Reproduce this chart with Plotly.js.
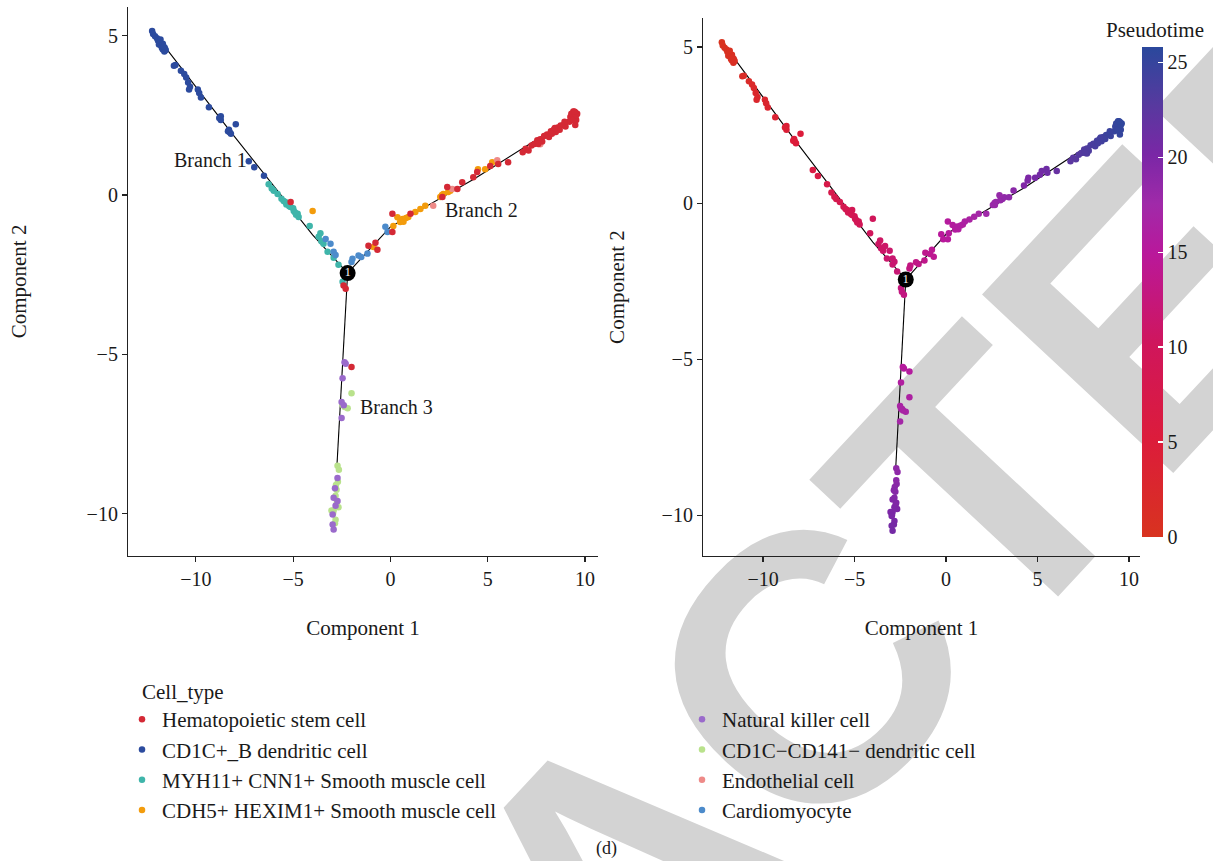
<!DOCTYPE html>
<html>
<head>
<meta charset="utf-8">
<script src="https://cdn.plot.ly/plotly-3.0.1.min.js"></script>
<style>
  html, body { margin: 0; padding: 0; background: #ffffff; }
  #chart { width: 1213px; height: 861px; }
</style>
</head>
<body>
<div id="chart"></div>
<script>
// ---- cell coordinates (Component 1, Component 2) and pseudotime, per cell type ----
const hematopoieticX = [-5.13, -1.13, -0.77, -0.67, 0.1, 0.1, 1.03, 2.92, 3.69, 3.44, -2.41, -2.3, -2.0, 4.26, 4.46, 2.67, 5.13, 5.54, 6.05, 6.8, 6.95, 7.1, 7.25, 7.4, 7.55, 7.7, 7.8, 7.9, 8.05, 8.15, 8.25, 8.4, 8.5, 8.6, 8.75, 8.9, 9.0, 8.3, 7.6, 9.2, 9.3, 9.35, 9.45, 9.5, 9.55, 9.6, 9.4, 9.25, 9.5, 9.3, 9.4, 9.55, 9.45, 8.95, 8.7, 8.45];
const hematopoieticY = [-0.22, -1.59, -1.5, -1.72, -0.59, -1.16, -0.59, 0.25, 0.4, 0.19, -2.84, -2.94, -5.4, 0.56, 0.72, -0.06, 0.91, 0.97, 1.03, 1.34, 1.45, 1.4, 1.55, 1.6, 1.72, 1.75, 1.68, 1.85, 1.9, 1.82, 2.0, 2.05, 1.98, 2.12, 2.18, 2.2, 2.15, 1.92, 1.6, 2.3, 2.4, 2.52, 2.45, 2.6, 2.35, 2.55, 2.62, 2.45, 2.2, 2.55, 2.35, 2.5, 2.62, 2.3, 2.05, 2.1];
const hematopoieticPseudotime = [8.9, 13.9, 14.3, 14.2, 15.4, 15.2, 16.3, 18.3, 19.1, 18.8, 12.9, 13.0, 15.5, 19.7, 19.9, 18.0, 20.6, 21.0, 21.5, 22.4, 22.5, 22.7, 22.9, 23.0, 23.2, 23.3, 23.4, 23.6, 23.7, 23.8, 23.9, 24.1, 24.2, 24.3, 24.5, 24.6, 24.7, 24.0, 23.2, 24.9, 25.0, 25.1, 25.2, 25.3, 25.2, 25.4, 25.3, 25.0, 25.1, 25.1, 25.1, 25.3, 25.3, 24.7, 24.4, 24.1];

const dendriticBX = [-12.25, -12.2, -12.1, -12.0, -11.95, -11.85, -11.9, -11.8, -11.75, -11.7, -11.62, -11.7, -11.82, -11.6, -11.55, -11.66, -11.13, -11.05, -10.77, -10.6, -10.5, -10.4, -10.3, -10.35, -9.9, -9.83, -9.74, -9.33, -8.72, -8.72, -8.8, -7.95, -8.26, -8.35, -8.2, -8.3, -7.28, -7.0, -6.5];
const dendriticBY = [5.15, 5.05, 4.98, 4.92, 4.85, 4.8, 4.72, 4.7, 4.62, 4.57, 4.5, 4.75, 4.88, 4.62, 4.55, 4.66, 4.06, 4.08, 3.9, 3.8, 3.69, 3.53, 3.4, 3.31, 3.31, 3.2, 3.06, 2.75, 2.47, 2.35, 2.42, 2.22, 1.97, 2.0, 1.92, 2.05, 1.06, 0.87, 0.6];
const dendriticBPseudotime = [0.0, 0.1, 0.2, 0.3, 0.4, 0.5, 0.5, 0.6, 0.7, 0.7, 0.8, 0.6, 0.4, 0.8, 0.9, 0.7, 1.5, 1.5, 1.9, 2.1, 2.2, 2.4, 2.5, 2.6, 2.9, 3.0, 3.2, 3.7, 4.4, 4.4, 4.3, 5.1, 5.0, 4.9, 5.1, 5.0, 6.4, 6.7, 7.3];

const smoothMyhX = [-6.26, -6.0, -5.8, -5.49, -5.28, -5.13, -4.97, -4.77, -4.72, -5.0, -5.35, -4.85, -4.15, -3.69, -3.44, -3.23, -2.92, -2.67, -2.46, -5.6, -3.55, -6.1, -5.2, -4.9, -5.4, -3.6];
const smoothMyhY = [0.34, 0.13, 0.03, -0.19, -0.28, -0.38, -0.5, -0.59, -0.69, -0.42, -0.3, -0.62, -0.97, -1.31, -1.53, -1.78, -1.97, -2.19, -2.72, -0.12, -1.45, 0.2, -0.35, -0.55, -0.22, -1.2];
const smoothMyhPseudotime = [7.6, 7.9, 8.2, 8.5, 8.8, 8.9, 9.1, 9.4, 9.5, 9.1, 8.7, 9.3, 10.1, 10.7, 11.0, 11.3, 11.7, 12.0, 12.6, 8.4, 10.9, 7.8, 8.8, 9.2, 8.6, 10.7];

const smoothCdhX = [-4.0, -0.87, 0.15, 0.36, 0.5, 0.62, 0.67, 0.8, 0.92, 1.28, 1.54, 1.79, 2.56, 2.72, 2.97, 3.08, 4.5, 4.87, 5.23, 2.65];
const smoothCdhY = [-0.5, -1.63, -0.97, -0.7, -0.85, -0.75, -0.84, -0.72, -0.69, -0.53, -0.44, -0.34, -0.06, 0.03, 0.09, 0.13, 0.81, 0.81, 1.03, 0.0];
const smoothCdhPseudotime = [9.9, 14.1, 15.3, 15.6, 15.7, 15.8, 15.8, 16.0, 16.1, 16.5, 16.8, 17.1, 17.9, 18.1, 18.3, 18.4, 20.0, 20.4, 20.8, 18.0];

const naturalKillerX = [-2.36, -2.3, -2.46, -2.51, -2.51, -2.72, -2.92, -2.82, -2.97, -2.97, -2.92, -2.72, -2.85, -2.4];
const naturalKillerY = [-5.25, -5.3, -5.75, -6.5, -7.0, -8.88, -9.5, -9.75, -10.03, -10.34, -10.5, -9.6, -9.2, -6.6];
const naturalKillerPseudotime = [15.3, 15.4, 15.8, 16.6, 17.1, 19.0, 19.6, 19.9, 20.1, 20.5, 20.6, 19.7, 19.3, 16.7];

const dendriticNegX = [-2.0, -2.46, -2.2, -2.35, -2.72, -2.65, -2.7, -2.77, -2.82, -2.92, -2.82, -3.03, -2.67, -2.85, -2.75, -2.95, -2.8];
const dendriticNegY = [-6.22, -6.59, -6.69, -6.65, -8.5, -8.62, -9.0, -9.25, -9.44, -9.9, -10.19, -9.9, -9.8, -10.3, -9.65, -10.0, -9.1];
const dendriticNegPseudotime = [16.3, 16.7, 16.8, 16.7, 18.6, 18.7, 19.1, 19.4, 19.5, 20.0, 20.3, 20.0, 19.9, 20.4, 19.7, 20.1, 19.2];

const endothelialX = [2.2, 3.18, 5.49, 7.7];
const endothelialY = [-0.34, 0.19, 1.09, 1.59];
const endothelialPseudotime = [17.5, 18.6, 21.0, 23.3];

const cardiomyocyteX = [-3.33, -3.08, -2.92, -2.82, -1.95, -1.64, -1.18, -1.5, -0.26, -0.15, -2.0];
const cardiomyocyteY = [-1.38, -1.53, -1.78, -1.88, -2.0, -1.9, -1.84, -1.95, -1.0, -1.16, -2.1];
const cardiomyocytePseudotime = [11.0, 11.3, 11.6, 11.7, 13.0, 13.3, 13.7, 13.4, 15.0, 15.0, 12.9];

// ---- principal tree (three branches meeting at branch point 1) ----
const branch1X = [-12.2, -11.4, -8.3, -4.0, -2.2];
const branch1Y = [5.05, 4.5, 2.05, -1.25, -2.45];
const branch2X = [-2.2, -1.0, 0.0, 4.3, 9.5];
const branch2Y = [-2.45, -1.65, -1.0, 0.5, 2.5];
const branch3X = [-2.2, -2.75];
const branch3Y = [-2.45, -8.5];
const branchPointX = [-2.2];
const branchPointY = [-2.45];
const branchPointLabel = ['1'];

const branchNames = ['Branch 1', 'Branch 2', 'Branch 3'];
const branchLabelX = [-9.23, 4.67, 0.31];
const branchLabelY = [1.09, -0.47, -6.66];

const axisTicks = [-10, -5, 0, 5, 10];
const pseudotimeTicks = [0, 5, 10, 15, 20, 25];

const FONT = 'Liberation Serif';
const INK = '#1a1a1a';

// cell types: name, colour, data, which legend column, rank within the column
const cellTypes = [
  { name: 'CD1C+_B dendritic cell', color: '#2c4b9e', x: dendriticBX, y: dendriticBY, t: dendriticBPseudotime, legend: 'legend', rank: 2 },
  { name: 'MYH11+ CNN1+ Smooth muscle cell', color: '#3fb5aa', x: smoothMyhX, y: smoothMyhY, t: smoothMyhPseudotime, legend: 'legend', rank: 3 },
  { name: 'Cardiomyocyte', color: '#4c8bcb', x: cardiomyocyteX, y: cardiomyocyteY, t: cardiomyocytePseudotime, legend: 'legend2', rank: 4 },
  { name: 'CDH5+ HEXIM1+ Smooth muscle cell', color: '#f39c0c', x: smoothCdhX, y: smoothCdhY, t: smoothCdhPseudotime, legend: 'legend', rank: 4 },
  { name: 'Endothelial cell', color: '#ee8a88', x: endothelialX, y: endothelialY, t: endothelialPseudotime, legend: 'legend2', rank: 3 },
  { name: 'Hematopoietic stem cell', color: '#d42935', x: hematopoieticX, y: hematopoieticY, t: hematopoieticPseudotime, legend: 'legend', rank: 1 },
  { name: 'CD1C\u2212CD141\u2212 dendritic cell', color: '#b9e28c', x: dendriticNegX, y: dendriticNegY, t: dendriticNegPseudotime, legend: 'legend2', rank: 2 },
  { name: 'Natural killer cell', color: '#9a6acb', x: naturalKillerX, y: naturalKillerY, t: naturalKillerPseudotime, legend: 'legend2', rank: 1 }
];

const pseudotimeScale = [
  [0.0, '#d8331f'],
  [0.2, '#dc1c3b'],
  [0.39, '#d0165b'],
  [0.58, '#b9189b'],
  [0.68, '#a02aa9'],
  [0.78, '#7a27a6'],
  [0.88, '#58399f'],
  [1.0, '#2a489c']
];

const traces = [];

function treeTraces(xa, ya) {
  [[branch1X, branch1Y], [branch2X, branch2Y], [branch3X, branch3Y]].forEach(([bx, by]) => {
    traces.push({
      type: 'scatter', mode: 'lines', x: bx, y: by, xaxis: xa, yaxis: ya,
      line: { color: '#000000', width: 1.1 }, hoverinfo: 'skip', showlegend: false
    });
  });
}

// left panel: cells coloured by type
treeTraces('x', 'y');
cellTypes.forEach(ct => {
  traces.push({
    type: 'scatter', mode: 'markers', name: ct.name, x: ct.x, y: ct.y,
    xaxis: 'x', yaxis: 'y',
    marker: { color: ct.color, size: 6.5 },
    legend: ct.legend, legendrank: ct.rank, legendgroup: ct.name
  });
});

// right panel: the same cells coloured by pseudotime
treeTraces('x2', 'y2');
traces.push({
  type: 'scatter', mode: 'markers', x: [].concat(...cellTypes.map(c => c.x)),
  y: [].concat(...cellTypes.map(c => c.y)), xaxis: 'x2', yaxis: 'y2', showlegend: false,
  marker: {
    size: 6.5, color: [].concat(...cellTypes.map(c => c.t)),
    colorscale: pseudotimeScale, cmin: 0, cmax: 25.8, showscale: true,
    colorbar: {
      x: 1142 / 1213, xanchor: 'left', xpad: 0, y: 1 - 292 / 861, yanchor: 'middle', ypad: 0,
      len: 490, lenmode: 'pixels', thickness: 21, thicknessmode: 'pixels', outlinewidth: 0,
      ticks: 'inside', ticklen: 5, tickcolor: '#ffffff', tickwidth: 1.2,
      tickvals: pseudotimeTicks, tickfont: { family: FONT, size: 20, color: INK }
    }
  }
});

// branch point markers
[['x', 'y'], ['x2', 'y2']].forEach(([xa, ya]) => {
  traces.push({
    type: 'scatter', mode: 'markers+text', x: branchPointX, y: branchPointY, text: branchPointLabel,
    xaxis: xa, yaxis: ya, showlegend: false, hoverinfo: 'skip',
    marker: { color: '#000000', size: 16 },
    textposition: 'middle center', textfont: { color: '#ffffff', size: 12, family: FONT }
  });
});

function axis(domain, range, anchor, title, standoff) {
  return {
    domain: domain, range: range, anchor: anchor, autorange: false,
    showline: true, linecolor: '#222222', linewidth: 1.1, mirror: false,
    ticks: 'outside', ticklen: 5, tickwidth: 1.1, tickcolor: '#222222',
    showgrid: false, zeroline: false, tickvals: axisTicks,
    tickfont: { family: FONT, size: 20, color: INK },
    title: { text: title, font: { family: FONT, size: 21, color: INK }, standoff: standoff },
    automargin: false
  };
}

const annotations = branchNames.map((b, i) => ({
  text: b, x: branchLabelX[i], y: branchLabelY[i], xref: 'x', yref: 'y', showarrow: false,
  xanchor: 'center', yanchor: 'middle',
  font: { family: FONT, size: 20, color: INK }
}));
annotations.push({
  text: 'Pseudotime', x: 1155 / 1213, y: 1 - 30 / 861, xref: 'paper', yref: 'paper', showarrow: false,
  xanchor: 'center', yanchor: 'middle',
  font: { family: FONT, size: 21, color: INK }
});
annotations.push({
  text: 'Cell_type', x: 140 / 1213, y: 1 - 692 / 861, xref: 'paper', yref: 'paper', showarrow: false,
  xanchor: 'left', yanchor: 'middle',
  font: { family: FONT, size: 21, color: INK }
});
annotations.push({
  text: '(d)', x: 606 / 1213, y: 1 - 848 / 861, xref: 'paper', yref: 'paper', showarrow: false,
  xanchor: 'center', yanchor: 'middle',
  font: { family: FONT, size: 18, color: INK }
});

const legendStyle = (x) => ({
  x: x, y: 1 - 699 / 861, xanchor: 'left', yanchor: 'top', bgcolor: 'rgba(0,0,0,0)',
  font: { family: FONT, size: 21, color: INK }, tracegroupgap: 0, itemclick: false
});

const layout = {
  width: 1213, height: 861,
  margin: { l: 0, r: 0, t: 0, b: 0 },
  paper_bgcolor: '#ffffff', plot_bgcolor: 'rgba(0,0,0,0)',
  font: { family: FONT, color: INK },
  xaxis: axis([128 / 1213, 598 / 1213], [-13.49, 10.67], 'y', 'Component 1', 31),
  yaxis: axis([1 - 556 / 861, 1 - 7 / 861], [-11.33, 5.9], 'x', 'Component 2', 54),
  xaxis2: axis([703 / 1213, 1140 / 1213], [-13.28, 10.6], 'y2', 'Component 1', 31),
  yaxis2: axis([1 - 556 / 861, 1 - 18 / 861], [-11.31, 5.93], 'x2', 'Component 2', 31),
  legend: legendStyle(122 / 1213),
  legend2: legendStyle(682 / 1213),
  annotations: annotations,
  shapes: [{
    type: 'rect', xref: 'paper', yref: 'paper', x0: 0.48, x1: 0.50, y0: 0.005, y1: 0.025,
    line: { width: 0 }, fillcolor: 'rgba(0,0,0,0)', layer: 'below',
    label: {
      text: 'RETRACTED', textposition: 'middle center', textangle: -47,
      font: { family: 'Liberation Sans', size: 380, color: '#d3d3d3', weight: 700 }
    }
  }]
};

Plotly.newPlot('chart', traces, layout, { displayModeBar: false, staticPlot: true });
</script>
</body>
</html>
